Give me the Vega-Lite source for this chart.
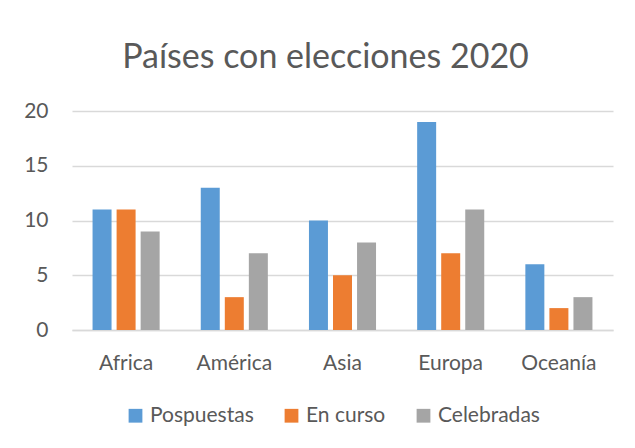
{
  "$schema": "https://vega.github.io/schema/vega-lite/v6.json",
  "width": 541,
  "height": 219,
  "autosize": {"type": "none"},
  "padding": {"left": 72, "top": 111, "right": 22, "bottom": 118},
  "background": "white",
  "title": {
    "text": "Países con elecciones 2020",
    "fontSize": 34,
    "font": "Lato",
    "fontWeight": "normal",
    "color": "#595959",
    "anchor": "middle",
    "dx": -17,
    "baseline": "alphabetic",
    "offset": -2
  },
  "data": {
    "values": [
      {"region": "Africa", "serie": "Pospuestas", "valor": 11},
      {"region": "Africa", "serie": "En curso", "valor": 11},
      {"region": "Africa", "serie": "Celebradas", "valor": 9},
      {"region": "América", "serie": "Pospuestas", "valor": 13},
      {"region": "América", "serie": "En curso", "valor": 3},
      {"region": "América", "serie": "Celebradas", "valor": 7},
      {"region": "Asia", "serie": "Pospuestas", "valor": 10},
      {"region": "Asia", "serie": "En curso", "valor": 5},
      {"region": "Asia", "serie": "Celebradas", "valor": 8},
      {"region": "Europa", "serie": "Pospuestas", "valor": 19},
      {"region": "Europa", "serie": "En curso", "valor": 7},
      {"region": "Europa", "serie": "Celebradas", "valor": 11},
      {"region": "Oceanía", "serie": "Pospuestas", "valor": 6},
      {"region": "Oceanía", "serie": "En curso", "valor": 2},
      {"region": "Oceanía", "serie": "Celebradas", "valor": 3}
    ]
  },
  "mark": {"type": "bar"},
  "encoding": {
    "x": {
      "field": "region",
      "type": "nominal",
      "sort": ["Africa", "América", "Asia", "Europa", "Oceanía"],
      "scale": {"paddingInner": 0.38, "paddingOuter": 0.19},
      "axis": {
        "title": null,
        "labelAngle": 0,
        "labelFont": "Lato",
        "labelFontSize": 21,
        "labelColor": "#595959",
        "labelPadding": 22,
        "ticks": false,
        "domainColor": "#D9D9D9",
        "domainWidth": 1.5,
        "grid": false
      }
    },
    "xOffset": {
      "field": "serie",
      "type": "nominal",
      "sort": ["Pospuestas", "En curso", "Celebradas"],
      "scale": {"paddingInner": 0.21, "paddingOuter": 0}
    },
    "y": {
      "field": "valor",
      "type": "quantitative",
      "scale": {"domain": [0, 20]},
      "axis": {
        "title": null,
        "values": [0, 5, 10, 15, 20],
        "labelFont": "Lato",
        "labelFontSize": 21,
        "labelColor": "#595959",
        "labelPadding": 24,
        "ticks": false,
        "domain": false,
        "gridColor": "#D9D9D9",
        "gridWidth": 1.5
      }
    },
    "color": {
      "field": "serie",
      "type": "nominal",
      "sort": ["Pospuestas", "En curso", "Celebradas"],
      "scale": {
        "domain": ["Pospuestas", "En curso", "Celebradas"],
        "range": ["#5B9BD5", "#ED7D31", "#A5A5A5"]
      },
      "legend": {
        "title": null,
        "orient": "none",
        "legendX": 53,
        "legendY": 294,
        "direction": "horizontal",
        "symbolType": "square",
        "symbolSize": 190,
        "symbolStrokeWidth": 0,
        "labelFont": "Lato",
        "labelFontSize": 21,
        "labelColor": "#595959",
        "columnPadding": 27,
        "symbolOffset": 0
      }
    }
  },
  "config": {
    "view": {"stroke": null}
  }
}
